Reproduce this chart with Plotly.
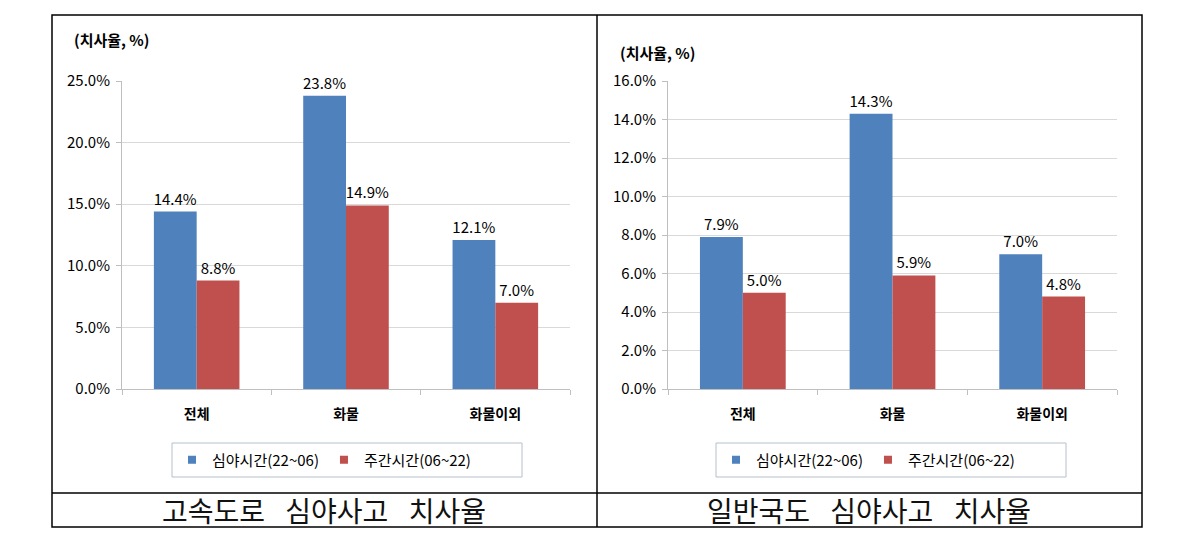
import plotly.graph_objects as go

W, H = 1202, 538
PAGE_PAD = 8  # the browser's default body margin offsets the figure by this much

categories = ["전체", "화물", "화물이외"]
highway_night = [14.4, 23.8, 12.1]
highway_day = [8.8, 14.9, 7.0]
national_night = [7.9, 14.3, 7.0]
national_day = [5.0, 5.9, 4.8]

series_names = ["심야시간(22~06)", "주간시간(06~22)"]
captions = ["고속도로 \u2002심야사고 \u2002치사율", "일반국도 \u2002심야사고 \u2002치사율"]
y_title = "(치사율, %)"

BLUE = "#4f81bd"
RED = "#c0504d"
FONT = "Noto Sans CJK KR"


def fx(px):
    return (px - PAGE_PAD) / W


def fy(py):
    return 1 - (py - PAGE_PAD) / H


fig = go.Figure()

panels = [
    ("x", "y", "legend", highway_night, highway_day),
    ("x2", "y2", "legend2", national_night, national_day),
]
for xa, ya, lg, night, day in panels:
    for vals, color in [(night, BLUE), (day, RED)]:
        fig.add_trace(go.Bar(
            x=categories, y=vals, xaxis=xa, yaxis=ya,
            marker=dict(color=color, line=dict(width=0)),
            texttemplate="%{y:.1f}%", textposition="outside",
            textfont=dict(family=FONT, size=15, color="#000"),
            constraintext="none", cliponaxis=False,
            showlegend=False, hoverinfo="x+y"))
    # legend entries with small square markers
    for name, color in zip(series_names, [BLUE, RED]):
        fig.add_trace(go.Scatter(
            x=[None], y=[None], xaxis=xa, yaxis=ya, name=name,
            mode="markers", legend=lg,
            marker=dict(symbol="square", size=8, color=color)))

axis_common = dict(
    showline=True, linecolor="#bfbfbf", linewidth=1,
    ticks="outside", ticklen=5, tickcolor="#bfbfbf", automargin=False,
)
xaxis_common = dict(axis_common, type="category", tickson="boundaries",
                    tickfont=dict(family=FONT, size=14, color="#000", weight="bold"),
                    ticklabelstandoff=12, showgrid=False)
yaxis_common = dict(axis_common, showgrid=True, gridcolor="#d9d9d9", gridwidth=1,
                    ticksuffix="%", tickformat=".1f", zeroline=False,
                    tickfont=dict(family=FONT, size=15, color="#000"),
                    ticklabelstandoff=3)

fig.update_layout(
    width=W, height=H,
    margin=dict(l=0, r=0, t=0, b=0, autoexpand=False),
    paper_bgcolor="white", plot_bgcolor="white",
    barmode="group", bargap=0.427, bargroupgap=0,
    xaxis=dict(xaxis_common, domain=[fx(122), fx(570)], anchor="y"),
    yaxis=dict(yaxis_common, domain=[fy(389), fy(81)], anchor="x",
               range=[0, 25], dtick=5),
    xaxis2=dict(xaxis_common, domain=[fx(668), fx(1117)], anchor="y2"),
    yaxis2=dict(yaxis_common, domain=[fy(389), fy(81)], anchor="x2",
                range=[0, 16], dtick=2),
    legend=dict(orientation="h", x=fx(172), xanchor="left", y=fy(460), yanchor="middle",
                bgcolor="rgba(0,0,0,0)", borderwidth=0,
                font=dict(family=FONT, size=15, color="#000")),
    legend2=dict(orientation="h", x=fx(716), xanchor="left", y=fy(460), yanchor="middle",
                 bgcolor="rgba(0,0,0,0)", borderwidth=0,
                 font=dict(family=FONT, size=15, color="#000")),
)

# table frame around the two charts
frame = dict(color="#000", width=1.5)
fig.add_shape(type="rect", xref="paper", yref="paper",
              x0=fx(52), x1=fx(1142), y0=fy(527), y1=fy(15), line=frame)
fig.add_shape(type="line", xref="paper", yref="paper",
              x0=fx(597), x1=fx(597), y0=fy(527), y1=fy(15), line=frame)
fig.add_shape(type="line", xref="paper", yref="paper",
              x0=fx(52), x1=fx(1142), y0=fy(493), y1=fy(493), line=frame)

# legend boxes
for x0, x1 in [(172, 522), (716, 1066)]:
    fig.add_shape(type="rect", xref="paper", yref="paper",
                  x0=fx(x0), x1=fx(x1), y0=fy(477), y1=fy(443),
                  line=dict(color="#b4c0cc", width=1))

# y axis unit labels
for xpos, ypos in [(72, 40), (618, 52)]:
    fig.add_annotation(text=y_title, xref="paper", yref="paper",
                       x=fx(xpos), y=fy(ypos), xanchor="left", yanchor="middle",
                       showarrow=False,
                       font=dict(family=FONT, size=15, color="#000", weight="bold"))

# captions under each chart
for text, xc in zip(captions, [324, 869]):
    fig.add_annotation(text=text, xref="paper", yref="paper",
                       x=fx(xc), y=fy(510), xanchor="center", yanchor="middle",
                       showarrow=False,
                       font=dict(family=FONT, size=28, color="#111"))

fig.write_html("out.html")
